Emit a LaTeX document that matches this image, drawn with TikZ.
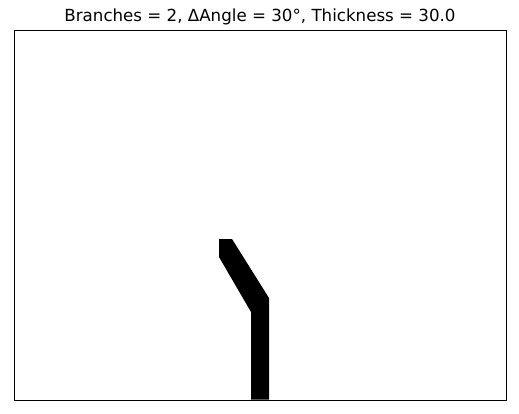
\documentclass[tikz,border=0pt]{standalone}
\usepackage{fontspec}
\setmainfont{DejaVu Sans}
\begin{document}
\begin{tikzpicture}[x=1pt,y=-1pt,
  frame/.style={draw=black,line width=0.9pt},
  tree/.style={fill=black,draw=none}]
\useasboundingbox (0,0) rectangle (519,413);
\fill[white] (0,0) rectangle (519,413);
\node[anchor=base,inner sep=0pt,font=\fontsize{16.67}{20}\selectfont] (title) at (260,21) {Branches = 2, ΔAngle = 30°, Thickness = 30.0};
\fill[tree] (219,239) -- (232,239) -- (269,298) -- (269,399.5) -- (251,399.5) -- (251,312) -- (219,257) -- cycle;
\draw[frame] (14,30.5) rectangle (506,400);
\end{tikzpicture}
\end{document}
